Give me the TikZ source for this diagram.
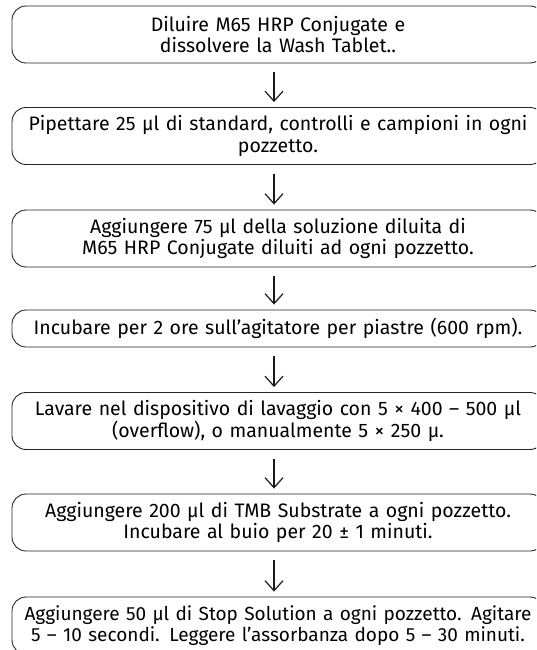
\documentclass[tikz,border=0pt]{standalone}
\usepackage{fontspec}
\newfontfamily\stepfont{Fira Sans}
\usetikzlibrary{arrows.meta}

\begin{document}
\begin{tikzpicture}[x=1pt, y=-1pt,
    stepbox/.style={draw=black!85, line width=0.9pt, rounded corners=14pt,
      minimum width=532pt, text width=532pt, inner xsep=0pt, inner ysep=0pt,
      align=center, minimum height=#1,
      font=\stepfont\fontsize{19.5}{21.5}\selectfont},
    stepbox/.default=57pt,
    flow/.style={line width=1.2pt, draw=black!90,
      -{Straight Barb[length=10pt, width=18pt, line width=1.2pt]},
      shorten <=9pt, shorten >=5pt}]
        \useasboundingbox (0,0) rectangle (536,650);
        \clip (0,0) rectangle (536,650);
        % Steps (top to bottom)
        \node (s1) at (278,34.5) [stepbox] {Diluire M65 HRP Conjugate e\\ dissolvere la Wash Tablet..};
        \node (s2) at (278,136) [stepbox] {Pipettare 25 µl di standard, controlli e campioni in ogni\\ pozzetto.};
        \node (s3) at (278,238.5) [stepbox] {Aggiungere 75 µl della soluzione diluita di\\ M65 HRP Conjugate diluiti ad ogni pozzetto.};
        \node (s4) at (278,328.5) [stepbox=37pt] {Incubare per 2 ore sull’agitatore per piastre (600 rpm).};
        \node (s5) at (278,421) [stepbox] {Lavare nel dispositivo di lavaggio con 5 × 400 – 500 µl\\ (overflow), o manualmente 5 × 250 µ.};
        \node (s6) at (278,522.5) [stepbox] {Aggiungere 200 µl di TMB Substrate a ogni pozzetto.\\ Incubare al buio per 20 ± 1 minuti.};
        \node (s7) at (278,625.5) [stepbox, font=\stepfont\fontsize{19}{21.5}\selectfont] {Aggiungere 50 µl di Stop Solution a ogni pozzetto. Agitare\\ 5 – 10 secondi. Leggere l’assorbanza dopo 5 – 30 minuti.};
        % Arrows
        \draw[flow] ([xshift=-4pt]s1.south) -- ([xshift=-4pt]s2.north);
        \draw[flow] ([xshift=-4pt]s2.south) -- ([xshift=-4pt]s3.north);
        \draw[flow] ([xshift=-4pt]s3.south) -- ([xshift=-4pt]s4.north);
        \draw[flow] ([xshift=-4pt]s4.south) -- ([xshift=-4pt]s5.north);
        \draw[flow] ([xshift=-4pt]s5.south) -- ([xshift=-4pt]s6.north);
        \draw[flow] ([xshift=-4pt]s6.south) -- ([xshift=-4pt]s7.north);
\end{tikzpicture}
\end{document}
